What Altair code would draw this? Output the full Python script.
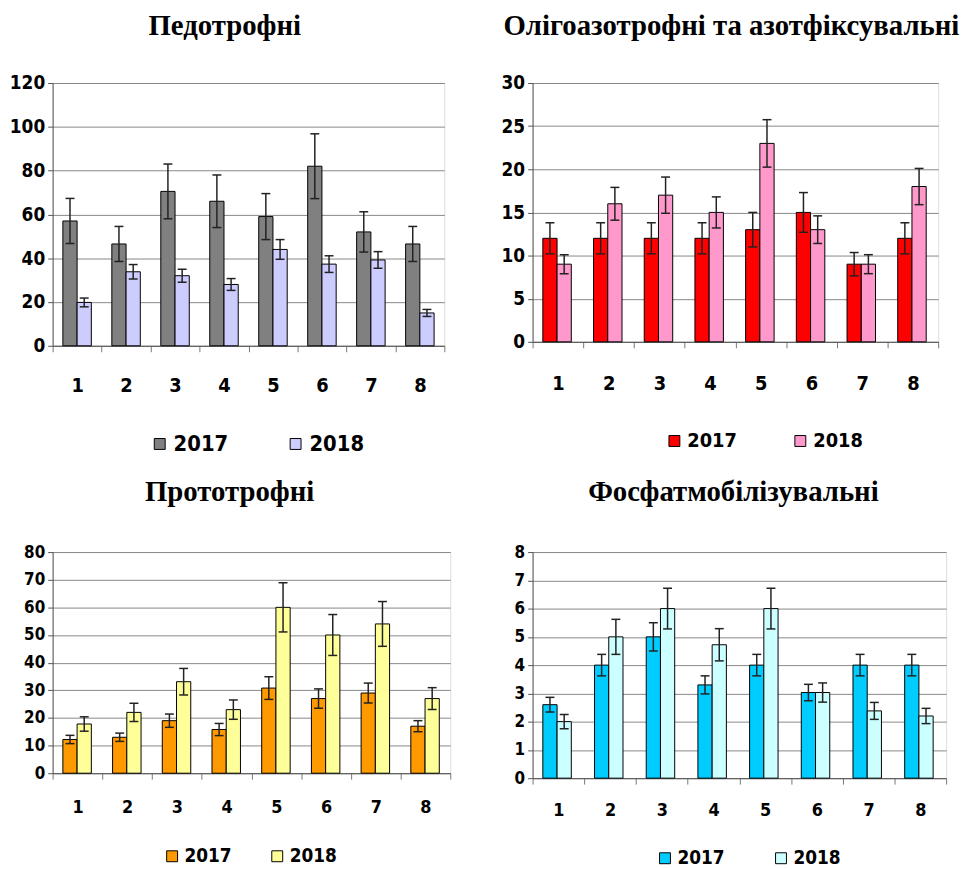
import altair as alt
import pandas as pd

cats = ['1', '2', '3', '4', '5', '6', '7', '8']
years = ['2017', '2018']

# Педотрофні
ped_2017 = [57, 46.5, 70.5, 66, 59, 82, 52, 46.5]
ped_2017_err = [10.3, 8, 12.5, 12, 10.5, 14.8, 9.2, 8]
ped_2018 = [19.8, 33.8, 32, 28, 44, 37.3, 39.2, 15]
ped_2018_err = [2, 3.3, 3, 2.7, 4.5, 3.8, 3.8, 1.6]

# Олігоазотрофні та азотфіксувальні
oli_2017 = [12, 12, 12, 12, 13, 15, 9, 12]
oli_2017_err = [1.8, 1.8, 1.8, 1.8, 2, 2.3, 1.35, 1.8]
oli_2018 = [9, 16, 17, 15, 23, 13, 9, 18]
oli_2018_err = [1.1, 1.9, 2.1, 1.8, 2.75, 1.6, 1.1, 2.1]

# Прототрофні
pro_2017 = [12.2, 13, 19, 15.8, 30.8, 27, 29, 17]
pro_2017_err = [1.5, 1.5, 2.4, 2.2, 4.1, 3.5, 3.6, 2]
pro_2018 = [17.8, 22, 33.1, 23, 60, 50, 54, 27]
pro_2018_err = [2.6, 3.3, 4.8, 3.5, 8.9, 7.4, 8.1, 3.95]

# Фосфатмобілізувальні
fos_2017 = [2.6, 4, 5, 3.3, 4, 3.03, 4, 4]
fos_2017_err = [0.26, 0.38, 0.5, 0.32, 0.38, 0.29, 0.38, 0.38]
fos_2018 = [2.0, 5, 6, 4.72, 6, 3.03, 2.38, 2.2]
fos_2018_err = [0.25, 0.62, 0.72, 0.57, 0.72, 0.34, 0.3, 0.27]

NARROW = "DejaVu Sans Condensed, Liberation Sans Narrow, Liberation Sans, sans-serif"
SERIF = "Liberation Serif, Times New Roman, serif"


def make_df(v17, e17, v18, e18):
    rows = []
    for c, v, e in zip(cats, v17, e17):
        rows.append({'cat': c, 'year': '2017', 'value': v, 'lo': v - e, 'hi': v + e})
    for c, v, e in zip(cats, v18, e18):
        rows.append({'cat': c, 'year': '2018', 'value': v, 'lo': v - e, 'hi': v + e})
    return pd.DataFrame(rows)


def panel(title, v17, e17, v18, e18, colors, ymax, ystep, w, h,
          yfs, xfs, lfs, xpad, legx, legy, colpad, toff, tdx, po):
    df = make_df(v17, e17, v18, e18)
    yscale = alt.Scale(domain=[0, ymax], nice=False)
    yaxis = alt.Axis(title=None, values=list(range(0, ymax + 1, ystep)),
                     grid=True, gridColor='#888', gridWidth=1,
                     domainColor='#555', tickColor='#555', tickSize=5,
                     labelFont=NARROW, labelFontSize=yfs,
                     labelFontWeight='bold', labelColor='black',
                     labelPadding=3, labelOverlap=False)
    base = alt.Chart(df).encode(
        x=alt.X('cat:N', sort=cats,
                scale=alt.Scale(paddingInner=0, paddingOuter=0),
                axis=alt.Axis(title=None, labelAngle=0, tickBand='extent',
                              tickSize=6, tickColor='#777', domainColor='#555',
                              labelFont=NARROW, labelFontSize=xfs,
                              labelFontWeight='bold', labelColor='black',
                              labelPadding=xpad, grid=False)),
        xOffset=alt.XOffset('year:N', sort=years,
                            scale=alt.Scale(paddingInner=0, paddingOuter=po)),
    )
    bars = base.mark_bar(stroke='black', strokeWidth=1).encode(
        y=alt.Y('value:Q', scale=yscale, axis=yaxis),
        color=alt.Color('year:N', sort=years,
                        scale=alt.Scale(domain=years, range=colors),
                        legend=alt.Legend(orient='none', legendX=legx, legendY=legy,
                                          direction='horizontal', title=None,
                                          symbolType='square', symbolSize=121,
                                          symbolStrokeColor='black',
                                          symbolStrokeWidth=1, symbolOpacity=1,
                                          labelFont=NARROW, labelFontSize=lfs,
                                          labelFontWeight='bold', labelColor='black',
                                          labelOffset=3, columnPadding=colpad)),
    )
    rules = base.mark_rule(color='#222', strokeWidth=1.5).encode(
        y=alt.Y('lo:Q', scale=yscale, axis=yaxis), y2='hi:Q')
    cap_hi = base.mark_tick(orient='horizontal', size=9, thickness=1.5,
                            color='#222', opacity=1).encode(
        y=alt.Y('hi:Q', scale=yscale, axis=yaxis))
    cap_lo = base.mark_tick(orient='horizontal', size=9, thickness=1.5,
                            color='#222', opacity=1).encode(
        y=alt.Y('lo:Q', scale=yscale, axis=yaxis))
    return alt.layer(bars, rules, cap_hi, cap_lo).properties(
        width=w, height=h,
        title=alt.Title(title, font=SERIF, fontSize=29, fontWeight='bold',
                        color='black', anchor='middle', offset=toff, dx=tdx),
    )


p1 = panel('Педотрофні', ped_2017, ped_2017_err, ped_2018, ped_2018_err,
           ['#808080', '#CCCCFF'], 120, 20, 395, 265,
           19, 20, 22, 24, 97, 353, 56, 33, -24, 0.72)
p2 = panel('Олігоазотрофні та азотфіксувальні', oli_2017, oli_2017_err,
           oli_2018, oli_2018_err, ['#FF0000', '#FF99CC'], 30, 5, 409, 261,
           19, 20, 20, 26, 133, 351, 53, 33, -4, 0.7)
p3 = panel('Прототрофні', pro_2017, pro_2017_err, pro_2018, pro_2018_err,
           ['#FF9900', '#FFFF99'], 80, 10, 401, 223,
           17, 18, 19, 20, 111, 297, 36, 36, -22, 0.67)
p4 = panel('Фосфатмобілізувальні', fos_2017, fos_2017_err, fos_2018, fos_2018_err,
           ['#00CCFF', '#CCFFFF'], 8, 1, 417, 228,
           17, 18, 19, 18, 124, 299, 47, 36, -6, 0.7)

chart = alt.concat(p1, p2, p3, p4, columns=2,
                   spacing={'row': 208, 'column': 83}, bounds='flush').resolve_scale(
    color='independent'
).configure_view(stroke='#888', strokeWidth=1).configure(
    padding={'left': 0, 'top': 0, 'right': 0, 'bottom': 0},
    background='white'
)

chart.save('out.html', embed_options={'renderer': 'svg', 'actions': False})
